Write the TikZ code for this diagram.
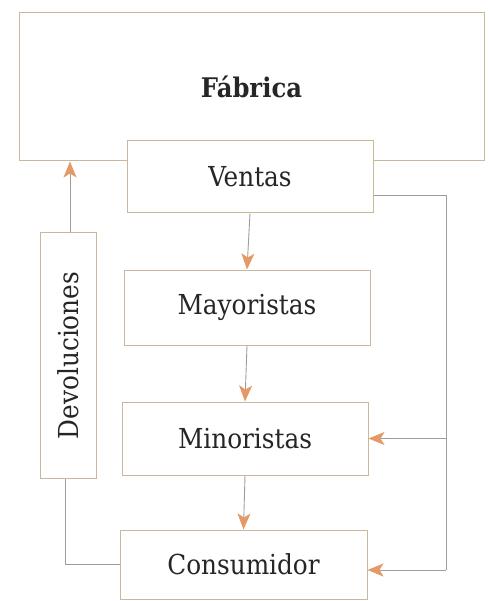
\documentclass[tikz,border=0pt]{standalone}
\usepackage{fontspec}
\setmainfont{DejaVu Serif Condensed}
\usetikzlibrary{arrows.meta}
\definecolor{boxline}{HTML}{C8B89C}
\definecolor{connline}{HTML}{A39C94}
\definecolor{tipcol}{HTML}{E39A66}
\definecolor{txt}{HTML}{262626}
\begin{document}
\begin{tikzpicture}[x=1pt,y=-1pt,
  boxstyle/.style={draw=boxline,line width=1pt,fill=white,text=txt,inner sep=0pt,font=\fontsize{27.5}{30}\selectfont},
  conn/.style={draw=connline,line width=0.9pt},
  arr/.style={conn,-{Stealth[length=16pt,width=13pt,inset=4pt,color=tipcol]}}]
\useasboundingbox (0,0) rectangle (488,601);
\node[boxstyle,minimum width=465pt,minimum height=148pt,font=\fontsize{27}{30}\selectfont\bfseries] (fab) at (251.5,87) {Fábrica};
\node[boxstyle,minimum width=246pt,minimum height=72pt] (ventas) at (250,177) {Ventas};
\node[boxstyle,minimum width=246pt,minimum height=75pt] (mayor) at (247,307.5) {Mayoristas};
\node[boxstyle,minimum width=246pt,minimum height=73pt] (mino) at (245,438.5) {Minoristas};
\node[boxstyle,minimum width=247pt,minimum height=69pt] (cons) at (243.5,564.5) {Consumidor};
\node[boxstyle,minimum width=245pt,minimum height=56pt,rotate=90] (dev) at (68,355.5) {Devoluciones};
\coordinate (rbot) at (446,570);
\draw[arr] (ventas.south) -- (mayor.north);
\draw[arr] (mayor.south) -- (mino.north);
\draw[arr] (mino.south) -- (cons.north);
\draw[conn] ([yshift=-18pt]ventas.east) -| (rbot);
\draw[arr] (rbot) -- (rbot -| cons.east);
\draw[arr] (rbot |- mino.east) -- (mino.east);
\draw[conn] (cons.west) -| ([xshift=-3pt]dev.west);
\draw[arr] ([xshift=2pt]dev.east) -- ([xshift=2pt]dev.east |- fab.south);
\end{tikzpicture}
\end{document}
